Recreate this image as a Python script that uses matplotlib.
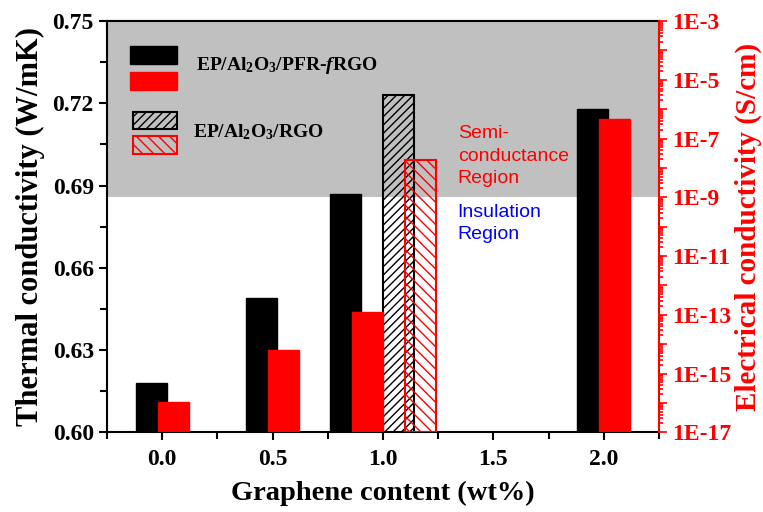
import numpy as np
import matplotlib.pyplot as plt
from matplotlib.patches import Rectangle
from matplotlib.ticker import MultipleLocator, LogLocator, FuncFormatter, FormatStrFormatter, NullFormatter

plt.rcParams['font.family'] = 'Liberation Serif'
plt.rcParams['font.weight'] = 'bold'
plt.rcParams['axes.labelweight'] = 'bold'
plt.rcParams['mathtext.fontset'] = 'custom'
plt.rcParams['mathtext.rm'] = 'Liberation Serif:bold'
plt.rcParams['mathtext.bf'] = 'Liberation Serif:bold'
plt.rcParams['mathtext.it'] = 'Liberation Serif:italic:bold'
plt.rcParams['hatch.linewidth'] = 1.0

# graphene loading (wt%)
content = [0.0, 0.5, 1.0, 2.0]
# EP/Al2O3/PFR-fRGO
thermal_frgo = [0.618, 0.649, 0.687, 0.718]
elec_frgo = [1.05e-16, 6.3e-15, 1.26e-13, 4.6e-7]
# EP/Al2O3/RGO
content_rgo = [1.0]
thermal_rgo = [0.723]
elec_rgo = [1.86e-8]

semi_limit = 1e-9
elec_lo, elec_hi = 1e-17, 1e-3

width = 0.14
# the 1.0 wt% group holds both composites side by side
shift_frgo = np.array([0.0, 0.0, -0.12, 0.0])
shift_rgo = np.array([0.12])

fig = plt.figure(figsize=(7.63, 5.12), dpi=100)
ax = fig.add_axes([0.1402, 0.1557, 0.7235, 0.8033])
ax2 = ax.twinx()

ax.set_xlim(-0.25, 2.25)
ax.set_ylim(0.60, 0.75)
ax2.set_yscale('log')
ax2.set_ylim(elec_lo, elec_hi)

# semiconducting region shading (above 1E-9 S/cm)
frac = (np.log10(semi_limit) - np.log10(elec_lo)) / (np.log10(elec_hi) - np.log10(elec_lo))
ax.add_patch(Rectangle((0, frac), 1, 1 - frac, transform=ax.transAxes,
                       facecolor='#c0c0c0', edgecolor='none', zorder=0.5))

x = np.array(content)
xr = np.array(content_rgo)
ax.bar(x + shift_frgo - 0.05, thermal_frgo, width, color='black', edgecolor='black', zorder=2)
ax.bar(xr + shift_rgo - 0.05, thermal_rgo, width, facecolor='none', edgecolor='black',
       hatch='////', linewidth=1.5, zorder=2)
ax2.bar(x + shift_frgo + 0.05, np.array(elec_frgo) - elec_lo, width, bottom=elec_lo,
        color='red', edgecolor='red', zorder=2)
ax2.bar(xr + shift_rgo + 0.05, np.array(elec_rgo) - elec_lo, width, bottom=elec_lo,
        facecolor='none', edgecolor='red', hatch='\\\\\\', linewidth=1.5, zorder=2)

# ticks
ax.xaxis.set_major_locator(MultipleLocator(0.5))
ax.xaxis.set_minor_locator(MultipleLocator(0.25))
ax.xaxis.set_major_formatter(FormatStrFormatter('%.1f'))
ax.yaxis.set_major_locator(MultipleLocator(0.03))
ax.yaxis.set_minor_locator(MultipleLocator(0.015))
ax.yaxis.set_major_formatter(FormatStrFormatter('%.2f'))
ax.tick_params(which='both', direction='out', width=1.5, labelsize=17)
ax.tick_params(which='major', length=6)
ax.tick_params(which='minor', length=5)
ax.tick_params(axis='x', which='major', pad=6)

top = ax.secondary_xaxis('top')
top.xaxis.set_major_locator(MultipleLocator(0.5))
top.xaxis.set_minor_locator(MultipleLocator(0.25))
top.tick_params(which='both', direction='in', length=6, width=1.5, labeltop=False)
top.xaxis.set_minor_formatter(NullFormatter())

def decade_label(v, pos):
    e = int(round(np.log10(v)))
    return f'1E{e}' if e % 2 else ''

ax2.yaxis.set_major_locator(LogLocator(base=10, numticks=30))
ax2.yaxis.set_minor_locator(LogLocator(base=10, subs=np.arange(2, 10), numticks=30))
ax2.yaxis.set_major_formatter(FuncFormatter(decade_label))
ax2.yaxis.set_minor_formatter(NullFormatter())
ax2.tick_params(axis='y', which='both', direction='out', colors='red', width=1.2, labelsize=17)
ax2.tick_params(axis='y', which='major', length=6)
ax2.tick_params(axis='y', which='minor', length=3)

for s in ax.spines.values():
    s.set_linewidth(1.5)
top.spines['top'].set_linewidth(1.5)
ax.spines['right'].set_visible(False)
for side in ['left', 'top', 'bottom']:
    ax2.spines[side].set_visible(False)
ax2.spines['right'].set_color('red')
ax2.spines['right'].set_linewidth(1.5)

ax.set_xlabel('Graphene content (wt%)', fontsize=20.5, labelpad=8)
ax.set_ylabel('Thermal conductivity (W/mK)', fontsize=22, labelpad=5)
ax2.set_ylabel('Electrical conductivity (S/cm)', fontsize=21, color='red', labelpad=2)

# legend boxes
ax.add_patch(Rectangle((0.0417, 0.8955), 0.085, 0.0445, transform=ax.transAxes,
                       facecolor='black', edgecolor='black', zorder=3))
ax.add_patch(Rectangle((0.0417, 0.8322), 0.085, 0.0445, transform=ax.transAxes,
                       facecolor='red', edgecolor='red', zorder=3))
ax.add_patch(Rectangle((0.0476, 0.7367), 0.079, 0.0428, transform=ax.transAxes,
                       facecolor='none', edgecolor='black', hatch='////', lw=1.5, zorder=3))
ax.add_patch(Rectangle((0.0476, 0.6766), 0.079, 0.0438, transform=ax.transAxes,
                       facecolor='none', edgecolor='red', hatch='\\\\\\', lw=1.5, zorder=3))
ax.text(0.1612, 0.8906, 'EP/Al$_2$O$_3$/PFR-$f$RGO', transform=ax.transAxes,
        fontsize=14, va='center', ha='left', zorder=3)
ax.text(0.1558, 0.730, 'EP/Al$_2$O$_3$/RGO', transform=ax.transAxes,
        fontsize=14, va='center', ha='left', zorder=3)

ax.text(0.6353, 0.746, 'Semi-\nconductance\nRegion', transform=ax.transAxes,
        family='Liberation Sans', fontweight='normal', fontsize=14, color='red',
        va='top', ha='left', linespacing=1.4, zorder=3)
ax.text(0.6353, 0.556, 'Insulation\nRegion', transform=ax.transAxes,
        family='Liberation Sans', fontweight='normal', fontsize=14, color='#0000ff',
        va='top', ha='left', linespacing=1.4, zorder=3)

fig.savefig('out.png', dpi=100)
